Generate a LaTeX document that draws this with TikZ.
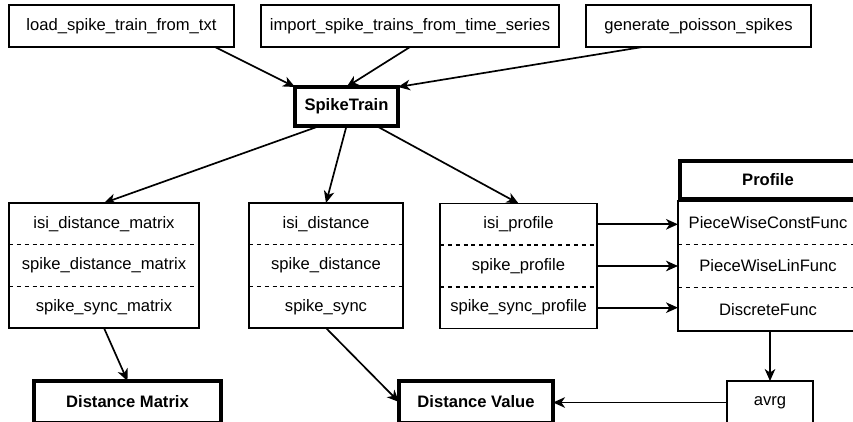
\documentclass[tikz,border=0pt]{standalone}
\usepackage{fontspec}
\setmainfont{Liberation Sans}
\usetikzlibrary{positioning, calc, fit, arrows.meta}
\newcommand\boxfont{\fontsize{11.8}{14}\selectfont}
\tikzset{
    box/.style={draw, line width=1pt, inner sep=0pt, outer sep=0pt, align=center},
    boldbox/.style={box, line width=3pt, font=\boxfont\bfseries},
    fnrow/.style={inner sep=0pt, outer sep=0pt, minimum height=1.042cm},
    link/.style={-{Stealth[length=8.5pt, width=7.5pt, inset=2.5pt]}, line width=1.2pt},
    rowsep/.style={dash pattern=on 2.8pt off 2.8pt, line width=1pt}
}

\begin{document}
\begin{tikzpicture}[x=0.025cm, y=-0.025cm, font=\boxfont]
\useasboundingbox (0,0) rectangle (853,421);
\clip (0,0) rectangle (853,421);

% sources of spike trains
\node[box, minimum width=5.625cm, minimum height=1.05cm] (load) at (121.5,26) {load\_spike\_train\_from\_txt};
\node[box, minimum width=7.45cm, minimum height=1.05cm] (import) at (410,26) {import\_spike\_trains\_from\_time\_series};
\node[box, minimum width=5.625cm, minimum height=1.05cm] (generate) at (698.5,26) {generate\_poisson\_spikes};

\node[boldbox, minimum width=2.575cm, minimum height=0.975cm] (spike) at (346.5,106.5) {SpikeTrain};

% matrix functions
\node[fnrow, minimum width=4.75cm] (A1) at (104,223.8) {isi\_distance\_matrix};
\node[fnrow, minimum width=4.75cm, below=0pt of A1] (A2) {spike\_distance\_matrix};
\node[fnrow, minimum width=4.75cm, below=0pt of A2] (A3) {spike\_sync\_matrix};
\node[box, fit=(A1)(A3)] (A) {};
\draw[rowsep] (A1.south west) -- (A1.south east);
\draw[rowsep] (A2.south west) -- (A2.south east);

% distance functions
\node[fnrow, minimum width=3.85cm] (B1) at (326,223.8) {isi\_distance};
\node[fnrow, minimum width=3.85cm, below=0pt of B1] (B2) {spike\_distance};
\node[fnrow, minimum width=3.85cm, below=0pt of B2] (B3) {spike\_sync};
\node[box, fit=(B1)(B3)] (B) {};
\draw[rowsep] (B1.south west) -- (B1.south east);
\draw[rowsep] (B2.south west) -- (B2.south east);

% profile functions
\node[fnrow, minimum width=3.925cm] (C1) at (518.5,224.3) {isi\_profile};
\node[fnrow, minimum width=3.925cm, below=0pt of C1] (C2) {spike\_profile};
\node[fnrow, minimum width=3.925cm, below=0pt of C2] (C3) {spike\_sync\_profile};
\node[box, fit=(C1)(C3)] (C) {};
\draw[rowsep] (C1.south west) -- (C1.south east);
\draw[rowsep] (C2.south west) -- (C2.south east);

% profile classes
\node[fnrow, minimum width=4.5cm, minimum height=1.083cm] (P1) at (768,222.7) {PieceWiseConstFunc};
\node[fnrow, minimum width=4.5cm, minimum height=1.083cm, below=0pt of P1] (P2) {PieceWiseLinFunc};
\node[fnrow, minimum width=4.5cm, minimum height=1.083cm, below=0pt of P2] (P3) {DiscreteFunc};
\node[box, fit=(P1)(P3)] (P) {};
\draw[rowsep] (P1.south west) -- (P1.south east);
\draw[rowsep] (P2.south west) -- (P2.south east);
\node[boldbox, minimum width=4.4cm, minimum height=0.95cm] (prof) at (768,180) {Profile};

% results
\node[boldbox, minimum width=4.675cm, minimum height=1.05cm] (dmat) at (127.5,402) {Distance Matrix};
\node[boldbox, minimum width=3.85cm, minimum height=1.05cm] (dval) at (476,402) {Distance Value};
\node[box, minimum width=2.15cm, minimum height=1.075cm] (avrg) at (770,402.5) {avrg};

\draw[link] ($(load.south east)+(-19,0)$) -- (spike.north west);
\draw[link] (import.south) -- (spike.north);
\draw[link] ($(generate.south)+(-56,0)$) -- (spike.north east);
\draw[link] ($(spike.south)+(-27,0)$) -- (A1.north);
\draw[link] (spike.south) -- (B1.north);
\draw[link] ($(spike.south)+(30,0)$) -- (C1.north);
\foreach \r in {1,2,3}
    \draw[link] (C\r.east) -- (C\r.east -| P\r.west);
\draw[link] (A3.south) -- (dmat.north);
\draw[link] (B3.south) -- (dval.west);
\draw[link] (avrg.north |- P3.south) -- (avrg.north);
\draw[link] (avrg.west) -- (avrg.west -| dval.east);

\end{tikzpicture}
\end{document}
